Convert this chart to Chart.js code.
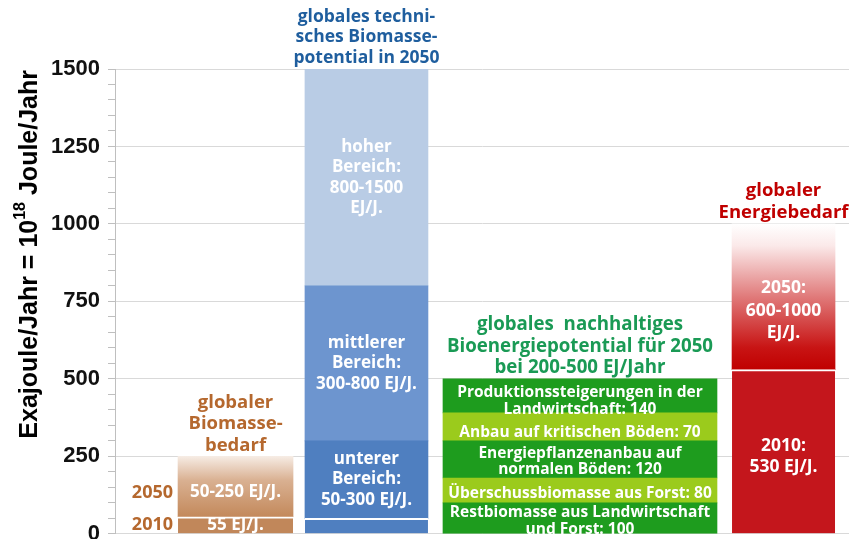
<!DOCTYPE html>
<html><head><meta charset="utf-8">
<script src="https://cdn.jsdelivr.net/npm/chart.js@4"></script>
<style>html,body{margin:0;padding:0;background:#fff;overflow:hidden}#wrap{width:849px;height:555px;position:relative}</style>
</head><body><div id="wrap"><canvas id="c"></canvas></div>
<script>
// ---------- data ----------
const categories = ['globaler Biomassebedarf', 'globales technisches Biomassepotential in 2050', 'globales nachhaltiges Bioenergiepotential für 2050', 'globaler Energiebedarf'];
const yTickLabels = [0, 250, 500, 750, 1000, 1250, 1500];

// globaler Biomassebedarf: upper bounds (2010, 2050)
const bedarfYears = ['2010', '2050'];
const bedarfTop = [55, 250];
const bedarfText = [['55 EJ/J.'], ['50-250 EJ/J.']];

// technisches Biomassepotential: upper bounds of segments
const potentialTop = [50, 300, 800, 1500];
const potentialText = [[], ['unterer', 'Bereich:', '50-300 EJ/J.'], ['mittlerer', 'Bereich:', '300-800 EJ/J.'], ['hoher', 'Bereich:', '800-1500', 'EJ/J.']];

// nachhaltiges Bioenergiepotential: segment sizes bottom -> top (as drawn)
const nachhaltigValues = [100, 80, 120, 90, 110];
const nachhaltigText = [['Restbiomasse aus Landwirtschaft', 'und Forst: 100'], ['Überschussbiomasse aus Forst: 80'], ['Energiepflanzenanbau auf', 'normalen Böden: 120'], ['Anbau auf kritischen Böden: 70'], ['Produktionssteigerungen in der', 'Landwirtschaft: 140']];

// globaler Energiebedarf: upper bounds (2010, 2050)
const energieTop = [530, 1000];
const energieText = [['2010:', '530 EJ/J.'], ['2050:', '600-1000', 'EJ/J.']];

const groupTitles = [['globaler', 'Biomasse-', 'bedarf'], ['globales techni-', 'sches Biomasse-', 'potential in 2050'], ['globales  nachhaltiges', 'Bioenergiepotential für 2050', 'bei 200-500 EJ/Jahr'], ['globaler', 'Energiebedarf']];

// ---------- layout / style ----------
const groupPos = [16.42, 34.26, 63.35, 91.08];
const groupWidth = [115, 123, 274, 103];
const titleColors = ['#b5682e', '#1f5e9e', '#1a9a55', '#c00000'];
const titleFont = [18.5, 17.5, 18.7, 18.5];
const titleLH = [21.5, 20.7, 21.5, 22];
const greenShift = [3, 3, 2, 6, 5];
const TXT = '"Open Sans", Lato, sans-serif';

function vGrad(lo, hi, stops) {
  return (c) => {
    const ch = c.chart;
    if (!ch.chartArea) return stops[stops.length - 1][1];
    const ys = ch.scales.y;
    const g = ch.ctx.createLinearGradient(0, ys.getPixelForValue(hi), 0, ys.getPixelForValue(lo));
    stops.forEach(s => g.addColorStop(s[0], s[1]));
    return g;
  };
}

const datasets = [];
function seg(group, lo, hi, bg, lines, opts) {
  datasets.push(Object.assign({
    label: categories[group],
    data: [{ x: groupPos[group], y: [lo, hi] }],
    backgroundColor: bg,
    barThickness: groupWidth[group],
    stack: 'all',
    borderWidth: 0,
    borderSkipped: false,
    lines: lines, fontSize: 17, lineH: 20.5, shift: 0
  }, opts || {}));
}

const whiteTop = { borderWidth: { top: 2, left: 0, right: 0, bottom: 0 }, borderColor: '#ffffff' };
// brown
seg(0, 0, bedarfTop[0], '#c1875a', bedarfText[0], Object.assign({ shift: 0, side: bedarfYears[0] }, whiteTop));
seg(0, bedarfTop[0], bedarfTop[1], vGrad(bedarfTop[0], bedarfTop[1], [[0, '#f6ece4'], [0.4, '#d9b091'], [1, '#c3895b']]), bedarfText[1], { shift: 6, side: bedarfYears[1] });
// blue
const blueCols = ['#4f7fc0', '#4f7fc0', '#6d95cf', '#b9cce5'];
potentialTop.forEach((t, i) => {
  const lo = i === 0 ? 0 : potentialTop[i - 1];
  seg(1, lo, t, blueCols[i], potentialText[i], i === 0 ? whiteTop : {});
});
// green
const greenCols = ['#1e9c1e', '#9bcb1c', '#1e9c1e', '#9bcb1c', '#1e9c1e'];
let acc = 0;
nachhaltigValues.forEach((v, i) => {
  seg(2, acc, acc + v, greenCols[i], nachhaltigText[i], { fontSize: 15.5, lineH: 16.5, shift: greenShift[i] });
  acc += v;
});
// red
seg(3, 0, energieTop[0], '#c4161c', energieText[0], Object.assign({ fontSize: 17.5, lineH: 21, shift: 5 }, whiteTop));
seg(3, energieTop[0], energieTop[1], vGrad(energieTop[0], energieTop[1], [[0, '#ffffff'], [0.15, '#fbe9e9'], [0.5, '#e07a7a'], [0.85, '#c81414'], [1, '#c00000']]), energieText[1], { fontSize: 17.5, lineH: 22.5, shift: 14 });

const groupTop = [bedarfTop[1], potentialTop[3], nachhaltigValues.reduce((a, b) => a + b, 0), energieTop[1]];

const textPlugin = {
  id: 'texts',
  afterDatasetsDraw(chart) {
    const ctx = chart.ctx;
    const ys = chart.scales.y, xs = chart.scales.x;
    ctx.save();
    ctx.textAlign = 'center';
    ctx.textBaseline = 'middle';
    chart.data.datasets.forEach((ds, i) => {
      const el = chart.getDatasetMeta(i).data[0];
      if (!el) return;
      const cy = (el.y + el.base) / 2 + ds.shift;
      ctx.font = 'bold ' + ds.fontSize + 'px ' + TXT;
      ctx.fillStyle = '#ffffff';
      const n = ds.lines.length;
      ds.lines.forEach((l, k) => ctx.fillText(l, el.x, cy + (k - (n - 1) / 2) * ds.lineH));
      if (ds.side) {
        ctx.fillStyle = titleColors[0];
        ctx.font = 'bold 18px ' + TXT;
        ctx.textAlign = 'right';
        ctx.fillText(ds.side, el.x - el.width / 2 - 5, cy);
        ctx.textAlign = 'center';
      }
    });
    // titles above groups
    groupTitles.forEach((lines, g) => {
      const x = xs.getPixelForValue(groupPos[g]);
      const bottom = ys.getPixelForValue(groupTop[g]) - 11;
      ctx.fillStyle = titleColors[g];
      ctx.font = 'bold ' + titleFont[g] + 'px ' + TXT;
      const n = lines.length;
      lines.forEach((l, k) => ctx.fillText(l, x, bottom - (n - 1 - k) * titleLH[g]));
    });
    ctx.restore();
  },
  afterDraw(chart) {
    // y axis title with real superscript
    const ctx = chart.ctx;
    const top = chart.chartArea.top + 1;
    const big = 'bold 25px "Liberation Sans", Arial, sans-serif';
    const small = 'bold 16px "Liberation Sans", Arial, sans-serif';
    const parts = [['Exajoule/Jahr = 10', big, 0], ['18', small, -9], [' Joule/Jahr', big, 0]];
    ctx.save();
    let total = 0;
    parts.forEach(p => { ctx.font = p[1]; p.push(ctx.measureText(p[0]).width); total += p[3]; });
    ctx.translate(30, top + total);
    ctx.rotate(-Math.PI / 2);
    ctx.textAlign = 'left';
    ctx.textBaseline = 'middle';
    ctx.fillStyle = '#000000';
    let x = 0;
    parts.forEach(p => { ctx.font = p[1]; ctx.fillText(p[0], x, p[2]); x += p[3]; });
    ctx.restore();
  }
};

new Chart(document.getElementById('c'), {
  type: 'bar',
  data: { datasets: datasets },
  plugins: [textPlugin],
  options: {
    responsive: true,
    maintainAspectRatio: false,
    animation: false,
    layout: { padding: { top: 69, left: 0, right: 0, bottom: 0 } },
    plugins: { legend: { display: false }, tooltip: { enabled: false }, title: { display: false } },
    scales: {
      x: { type: 'linear', min: 0, max: 100, display: false, stacked: true, offset: false },
      y: {
        type: 'linear', min: 0, max: 1500, stacked: false,
        afterFit: (s) => { s.width = 115; },
        afterBuildTicks: (s) => { const t = []; for (let v = 0; v <= 1500; v += 50) t.push({ value: v }); s.ticks = t; },
        ticks: {
          autoSkip: false, padding: 8, color: '#111111',
          font: { family: '"Liberation Sans", Arial, sans-serif', weight: 'bold', size: 22 },
          callback: (v) => yTickLabels.includes(v) ? String(v) : ''
        },
        grid: {
          color: (c) => (c.tick && yTickLabels.includes(c.tick.value)) ? '#d9d9d9' : 'rgba(0,0,0,0)',
          tickColor: '#bfbfbf', tickLength: 7, lineWidth: 1
        },
        border: { color: '#bfbfbf', width: 1 }
      }
    }
  }
});
</script>
</body></html>
